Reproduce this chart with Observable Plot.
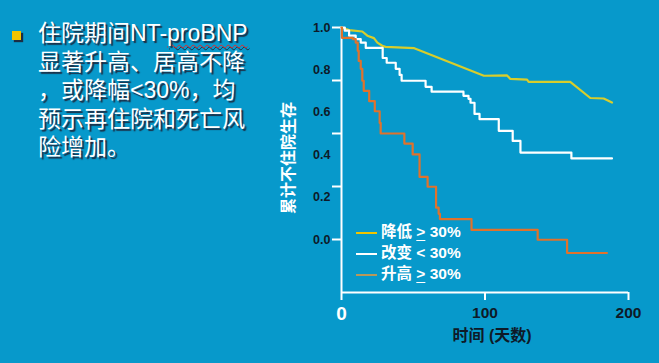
<!DOCTYPE html>
<html>
<head>
<meta charset="utf-8">
<script src="https://cdn.jsdelivr.net/npm/d3@7"></script>
<script src="https://cdn.jsdelivr.net/npm/@observablehq/plot@0.6"></script>
<style>
  html, body { margin: 0; padding: 0; background: #0799cb; width: 659px; height: 363px; overflow: hidden; }
  #wrap { position: relative; width: 659px; height: 363px; }
  #chart { position: absolute; left: 0; top: 0; }
  #bulletText { position: absolute; left: 38px; top: 19px; color: #fff;
    font-family: "Liberation Sans", "Noto Sans CJK SC", sans-serif; font-size: 23px; line-height: 28.5px;
    text-shadow: 2px 2px 1px #1b2d44; white-space: nowrap; }
  #bulletMark { position: absolute; left: 12px; top: 31px; width: 9px; height: 9px; background: #f4c400;
    box-shadow: 2px 2px 1px #1b2d44; }
  .spell { text-decoration: underline wavy #e02a2a; text-decoration-thickness: 1px; text-underline-offset: 3px; }
  #legend { position: absolute; left: 356px; top: 221px; color: #fff; font-weight: bold;
    font-family: "Liberation Sans", "Noto Sans CJK SC", sans-serif; font-size: 15.5px; line-height: 20px; }
  #legend .row { display: flex; align-items: center; height: 21px; }
  #legend .sw { display: inline-block; width: 21px; height: 2px; margin-right: 4px; margin-top: 2px; }
  #legend .u { text-decoration: underline; text-underline-offset: 3px; }
</style>
</head>
<body>
<div id="wrap">
  <div id="bulletMark"></div>
  <div id="bulletText"></div>
  <div id="chart"></div>
  <div id="legend"></div>
</div>
<script>
// ---- text ----
const bulletLines = ["住院期间NT-proBNP", "显著升高、居高不降", "，或降幅<30%，均", "预示再住院和死亡风", "险增加。"];
const yTitle = "累计不住院生存";
const xTitle = "时间 (天数)";
const seriesNames = ["降低 > 30%", "改变 < 30%", "升高 > 30%"];
const seriesUnderlined = [true, false, true];
const seriesColors = ["#d8cd2c", "#ffffff", "#e0722c"];
const legendColors = ["#f0c400", "#ffffff", "#b8985a"];

// ---- axis ticks ----
const yTicks = [0.2, 0.4, 0.6, 0.8, 1.0];
const yTickLabels = [1.0, 0.8, 0.6, 0.4, 0.2, 0.0];
const xTicks = [0, 100, 200];

// ---- survival curves (days, cumulative event-free survival) ----
const lowT = [0, 5.3, 14.5, 18, 22.6, 25, 28.4, 30.7, 50.7, 99.2, 115.4, 117.7, 129.3, 130.4, 159.4, 173.4, 182.7, 188.5];
const lowS = [1.0, 0.99, 0.985, 0.969, 0.96, 0.943, 0.931, 0.927, 0.922, 0.818, 0.819, 0.806, 0.803, 0.795, 0.795, 0.734, 0.732, 0.717];

const midT = [0, 2.3, 5.3, 9.9, 13.4, 16.9, 28.7, 31.5, 37.8, 40.5, 41.9, 58.6, 62.8, 85.0, 88.5, 89.9, 92.7, 96.2, 109.6, 119.3, 124.7, 160.2, 188.5];
const midS = [1.0, 0.988, 0.969, 0.956, 0.943, 0.923, 0.885, 0.867, 0.844, 0.821, 0.799, 0.776, 0.758, 0.742, 0.731, 0.716, 0.674, 0.654, 0.610, 0.572, 0.528, 0.506, 0.506];

const highT = [0, 0.3, 7.9, 9.9, 11.3, 12.0, 13.4, 14.5, 15.5, 19.3, 23.2, 26.6, 27.3, 43.8, 49.6, 54.4, 60.0, 65.9, 67.7, 68.6, 90.6, 136.7, 157.2, 185.0];
const highS = [1.0, 0.961, 0.956, 0.943, 0.912, 0.874, 0.844, 0.799, 0.761, 0.722, 0.684, 0.640, 0.600, 0.562, 0.521, 0.436, 0.399, 0.320, 0.297, 0.277, 0.236, 0.199, 0.149, 0.149];

const toRows = (T, S) => T.map((t, i) => ({t, s: S[i]}));
const lowRows = toRows(lowT, lowS);
const midRows = toRows(midT, midS);
const highRows = toRows(highT, highS);

// left bullet text
const bt = document.getElementById("bulletText");
bulletLines.forEach((ln, i) => {
  const d = document.createElement("div");
  if (i === 0) {
    d.innerHTML = "住院期间NT-<span class='spell'>proBNP</span>";
  } else d.textContent = ln;
  bt.appendChild(d);
});

// legend
const lg = document.getElementById("legend");
seriesNames.forEach((name, i) => {
  const r = document.createElement("div");
  r.className = "row";
  const sw = document.createElement("span");
  sw.className = "sw"; sw.style.background = legendColors[i];
  r.appendChild(sw);
  const parts = name.split(" ");
  const t = document.createElement("span");
  t.innerHTML = parts[0] + " " + (seriesUnderlined[i] ? "<span class='u'>" + parts[1].replace(">", "&gt;") + "</span>" : parts[1].replace("<", "&lt;")) + " " + parts[2];
  r.appendChild(t);
  lg.appendChild(r);
});

const font = "'Liberation Sans', 'Noto Sans CJK SC', sans-serif";
const ink = "#0e1a28";

const chart = Plot.plot({
  width: 659,
  height: 363,
  marginLeft: 341,
  marginRight: 31,
  marginTop: 27,
  marginBottom: 71,
  style: {background: "transparent", fontFamily: font},
  x: {domain: [0, 200]},
  y: {domain: [0, 1]},
  marks: [
    Plot.axisY(yTicks, {tickSize: 9, tickFormat: () => "", stroke: "#fff", strokeWidth: 2, label: null}),
    Plot.axisX(xTicks, {tickSize: 8, tickFormat: () => "", stroke: "#fff", strokeWidth: 2, label: null}),
    Plot.ruleX([0], {y1: 0, y2: 1, stroke: "#fff", strokeWidth: 2}),
    Plot.ruleY([0], {x1: 0, x2: 200, stroke: "#fff", strokeWidth: 2}),
    // source slide's y labels are compressed relative to the ticks
    Plot.text(yTickLabels, {y: d => 0.2 + 0.8 * d, frameAnchor: "left", dx: -11, textAnchor: "end", lineAnchor: "middle",
      text: d => d.toFixed(1), fill: ink, fontWeight: "bold", fontSize: 12.5}),
    Plot.text(xTicks.slice(0, 1), {x: d => d, frameAnchor: "bottom", dy: 21, lineAnchor: "middle", text: d => String(d),
      fill: "#fff", fontWeight: "bold", fontSize: 19}),
    Plot.text(xTicks.slice(1), {x: d => d, frameAnchor: "bottom", dy: 21, lineAnchor: "middle", text: d => String(d),
      fill: ink, fontWeight: "bold", fontSize: 15.5}),
    Plot.text([xTitle], {frameAnchor: "bottom", dx: 7, dy: 43, lineAnchor: "middle", fill: ink, fontWeight: "bold", fontSize: 16}),
    Plot.text([yTitle], {frameAnchor: "left", dx: -53, dy: -2, rotate: -90, textAnchor: "middle", lineAnchor: "middle",
      fill: "#fff", fontWeight: "bold", fontSize: 16}),
    Plot.line(lowRows, {x: "t", y: "s", stroke: seriesColors[0], strokeWidth: 2.2}),
    Plot.line(midRows, {x: "t", y: "s", curve: "step-after", stroke: seriesColors[1], strokeWidth: 2.2}),
    Plot.line(highRows, {x: "t", y: "s", curve: "step-after", stroke: seriesColors[2], strokeWidth: 2.2})
  ]
});
document.getElementById("chart").appendChild(chart);
</script>
</body>
</html>
